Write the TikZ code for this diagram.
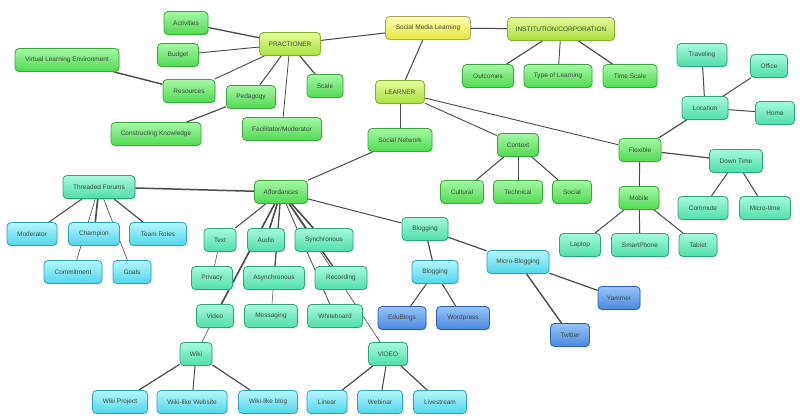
\documentclass[tikz,border=0pt]{standalone}
\usepackage{fontspec}
\setmainfont{Liberation Sans}
\usetikzlibrary{backgrounds,shadows}
\definecolor{txt}{HTML}{3E4A3C}
\definecolor{ln}{HTML}{4A4A4A}
\tikzset{
  box/.style={rounded corners=4pt, inner sep=0pt, minimum height=23pt, line width=0.8pt,
    font=\fontsize{6.5}{8}\selectfont, text=txt,
    drop shadow={opacity=0.22, shadow xshift=0.7pt, shadow yshift=-0.9pt}},
  yel/.style={box, draw=yellow!55!black!80, top color=yellow!30!white, bottom color={rgb,255:red,232;green,232;blue,64}},
  lim/.style={box, draw={rgb,255:red,130;green,180;blue,50}, top color={rgb,255:red,228;green,250;blue,150}, bottom color={rgb,255:red,170;green,225;blue,65}},
  grn/.style={box, draw={rgb,255:red,58;green,170;blue,58}, top color={rgb,255:red,165;green,248;blue,165}, bottom color={rgb,255:red,80;green,218;blue,80}},
  tea/.style={box, draw={rgb,255:red,45;green,165;blue,125}, top color={rgb,255:red,165;green,250;blue,220}, bottom color={rgb,255:red,80;green,222;blue,168}},
  cya/.style={box, draw={rgb,255:red,45;green,165;blue,190}, top color={rgb,255:red,180;green,245;blue,252}, bottom color={rgb,255:red,80;green,214;blue,236}},
  blu/.style={box, draw={rgb,255:red,45;green,95;blue,175}, top color={rgb,255:red,150;green,195;blue,248}, bottom color={rgb,255:red,74;green,136;blue,222}},
  con/.style={draw=ln, line width=1pt},
}
\begin{document}
\begin{tikzpicture}[x=1pt,y=-1pt]
\useasboundingbox (0,0) rectangle (800,419);
% top level
\node[yel, minimum width=85] (sml) at (428,28) {Social Media Learning};
\node[lim, minimum width=61] (prac) at (290,44) {PRACTIONER};
\node[lim, minimum width=107] (inst) at (561,29) {INSTITUTION/CORPORATION};
\node[lim, minimum width=49] (lrn) at (400,92) {LEARNER};
% practioner
\node[grn, minimum width=44] (act) at (186,23) {Activities};
\node[grn, minimum width=41] (bud) at (178,55) {Budget};
\node[grn, minimum width=104] (vle) at (67,60) {Virtual Learning Environment};
\node[grn, minimum width=52] (res) at (189,91) {Resources};
\node[grn, minimum width=49] (ped) at (251,97) {Pedagogy};
\node[grn, minimum width=36] (scl) at (325,86) {Scale};
\node[grn, minimum width=90] (ck) at (156,134) {Constructing Knowledge};
\node[grn, minimum width=79] (fac) at (282,129) {Facilitator/Moderator};
% institution
\node[grn, minimum width=51] (out) at (488,76) {Outcomes};
\node[grn, minimum width=68] (tol) at (558,76) {Type of Learning};
\node[grn, minimum width=54] (tsc) at (630,76) {Time Scale};
% learner
\node[grn, minimum width=64] (sn) at (400,140) {Social Network};
\node[grn, minimum width=41] (ctx) at (518,145) {Context};
\node[grn, minimum width=43] (cul) at (462,192) {Cultural};
\node[grn, minimum width=49] (tec) at (518,192) {Technical};
\node[grn, minimum width=39] (soc) at (572,192) {Social};
\node[grn, minimum width=42] (flx) at (640,150) {Flexible};
\node[tea, minimum width=46] (loc) at (705,108) {Location};
\node[tea, minimum width=50] (trv) at (702,55) {Traveling};
\node[tea, minimum width=37] (off) at (769,66) {Office};
\node[tea, minimum width=39] (hom) at (775,113) {Home};
\node[tea, minimum width=53] (dt) at (736,161) {Down Time};
\node[tea, minimum width=50] (com) at (703,208) {Commute};
\node[tea, minimum width=51] (mt) at (765,208) {Micro-time};
\node[grn, minimum width=40] (mob) at (639,198) {Mobile};
\node[tea, minimum width=41] (lap) at (580,245) {Laptop};
\node[tea, minimum width=57] (sp) at (640,245) {SmartPhone};
\node[tea, minimum width=38] (tab) at (698,245) {Tablet};
% affordances
\node[grn, minimum width=53] (aff) at (281,192) {Affordances};
\node[tea, minimum width=72] (tf) at (99,187) {Threaded Forums};
\node[cya, minimum width=50] (mod) at (32,234) {Moderator};
\node[cya, minimum width=51] (cha) at (94,234) {Champion};
\node[cya, minimum width=57] (tr) at (158,234) {Team Roles};
\node[cya, minimum width=58] (cmt) at (73,272) {Commitment};
\node[cya, minimum width=38] (gls) at (132,272) {Goals};
\node[tea, minimum width=32] (txt) at (220,240) {Text};
\node[tea, minimum width=37] (aud) at (266,240) {Audio};
\node[tea, minimum width=58] (syn) at (324,240) {Synchronous};
\node[tea, minimum width=41] (prv) at (212,278) {Privacy};
\node[tea, minimum width=61] (asy) at (274,278) {Asynchronous};
\node[tea, minimum width=52] (rec) at (341,278) {Recording};
\node[tea, minimum width=37] (vid) at (215,316) {Video};
\node[tea, minimum width=53] (msg) at (271,316) {Messaging};
\node[tea, minimum width=55] (wb) at (335,316) {Whiteboard};
\node[tea, minimum width=32] (wik) at (196,354) {Wiki};
\node[tea, minimum width=39] (vv) at (388,354) {VIDEO};
\node[cya, minimum width=55] (wp) at (120,402) {Wiki Project};
\node[cya, minimum width=70] (wlw) at (192,402) {Wiki-like Website};
\node[cya, minimum width=59] (wlb) at (268,402) {Wiki-like blog};
\node[cya, minimum width=40] (lin) at (327,402) {Linear};
\node[cya, minimum width=45] (web) at (380,402) {Webinar};
\node[cya, minimum width=53] (liv) at (440,402) {Livestream};
% blogging
\node[tea, minimum width=46] (bl1) at (425,229) {Blogging};
\node[cya, minimum width=46] (bl2) at (435,272) {Blogging};
\node[cya, minimum width=62] (mb) at (518,262) {Micro-Blogging};
\node[blu, minimum width=48] (edu) at (402,318) {EduBlogs};
\node[blu, minimum width=53] (wrd) at (463,318) {Wordpress};
\node[blu, minimum width=42] (yam) at (619,298) {Yammer};
\node[blu, minimum width=39] (twt) at (570,335) {Twitter};
\begin{pgfonlayer}{background}
\fill[white] (0,0) rectangle (800,419);
\draw[con] (sml) -- (prac);
\draw[con] (sml) -- (inst);
\draw[con] (sml) -- (lrn);
\draw[con, line width=1.3pt] (prac) -- (act);
\draw[con, line width=0.9pt] (prac) -- (bud);
\draw[con, line width=0.9pt] (prac) -- (res);
\draw[con] (prac) -- (ped);
\draw[con, line width=0.8pt] (prac) -- (fac);
\draw[con, line width=1.2pt] (prac) -- (scl);
\draw[con, line width=1.4pt] (res) -- (vle);
\draw[con, line width=1.2pt] (ped) -- (ck);
\draw[con, line width=1.1pt] (inst) -- (out);
\draw[con, line width=0.9pt] (inst) -- (tol);
\draw[con, line width=1.2pt] (inst) -- (tsc);
\draw[con] (lrn) -- (sn);
\draw[con, line width=0.9pt] (lrn) -- (ctx);
\draw[con, line width=0.9pt] (lrn) -- (flx);
\draw[con] (ctx) -- (cul);
\draw[con] (ctx) -- (tec);
\draw[con] (ctx) -- (soc);
\draw[con, line width=1.2pt] (flx) -- (loc);
\draw[con] (flx) -- (mob);
\draw[con, line width=1.2pt] (flx) -- (dt);
\draw[con] (loc) -- (trv);
\draw[con] (loc) -- (off);
\draw[con] (loc) -- (hom);
\draw[con] (mob) -- (lap);
\draw[con] (mob) -- (sp);
\draw[con] (mob) -- (tab);
\draw[con] (dt) -- (com);
\draw[con] (dt) -- (mt);
\draw[con] (sn) -- (aff);
\draw[con, line width=1.5pt] (aff) -- (tf);
\draw[con] (aff) -- (bl1);
\draw[con] (aff) -- (txt);
\draw[con, line width=1.6pt] (aff) -- (aud);
\draw[con, line width=1.6pt] (aff) -- (syn);
\draw[con, line width=1.6pt] (aff) -- (vid);
\draw[con, line width=1.2pt] (aff) -- (asy);
\draw[con, line width=0.5pt] (aff) -- (msg);
\draw[con, line width=1.4pt] (aff) -- (rec);
\draw[con, line width=0.8pt] (aff) -- (wb);
\draw[con, line width=0.6pt] (aff) -- (vv);
\draw[con, line width=0.5pt] (txt) -- (prv);
\draw[con] (tf) -- (mod);
\draw[con, line width=1.6pt] (tf) -- (cha);
\draw[con, line width=0.6pt] (tf) -- (cmt);
\draw[con, line width=0.6pt] (tf) -- (gls);
\draw[con, line width=1.2pt] (tf) -- (tr);
\draw[con, line width=1.2pt] (bl1) -- (bl2);
\draw[con, line width=1.2pt] (bl1) -- (mb);
\draw[con] (bl2) -- (edu);
\draw[con] (bl2) -- (wrd);
\draw[con, line width=1.4pt] (mb) -- (twt);
\draw[con, line width=1.2pt] (mb) -- (yam);
\draw[con, line width=0.5pt] (vid) -- (wik);
\draw[con, line width=1.2pt] (wik) -- (wp);
\draw[con] (wik) -- (wlw);
\draw[con, line width=1.2pt] (wik) -- (wlb);
\draw[con, line width=1.2pt] (vv) -- (lin);
\draw[con] (vv) -- (web);
\draw[con, line width=1.2pt] (vv) -- (liv);
\end{pgfonlayer}
\end{tikzpicture}
\end{document}
